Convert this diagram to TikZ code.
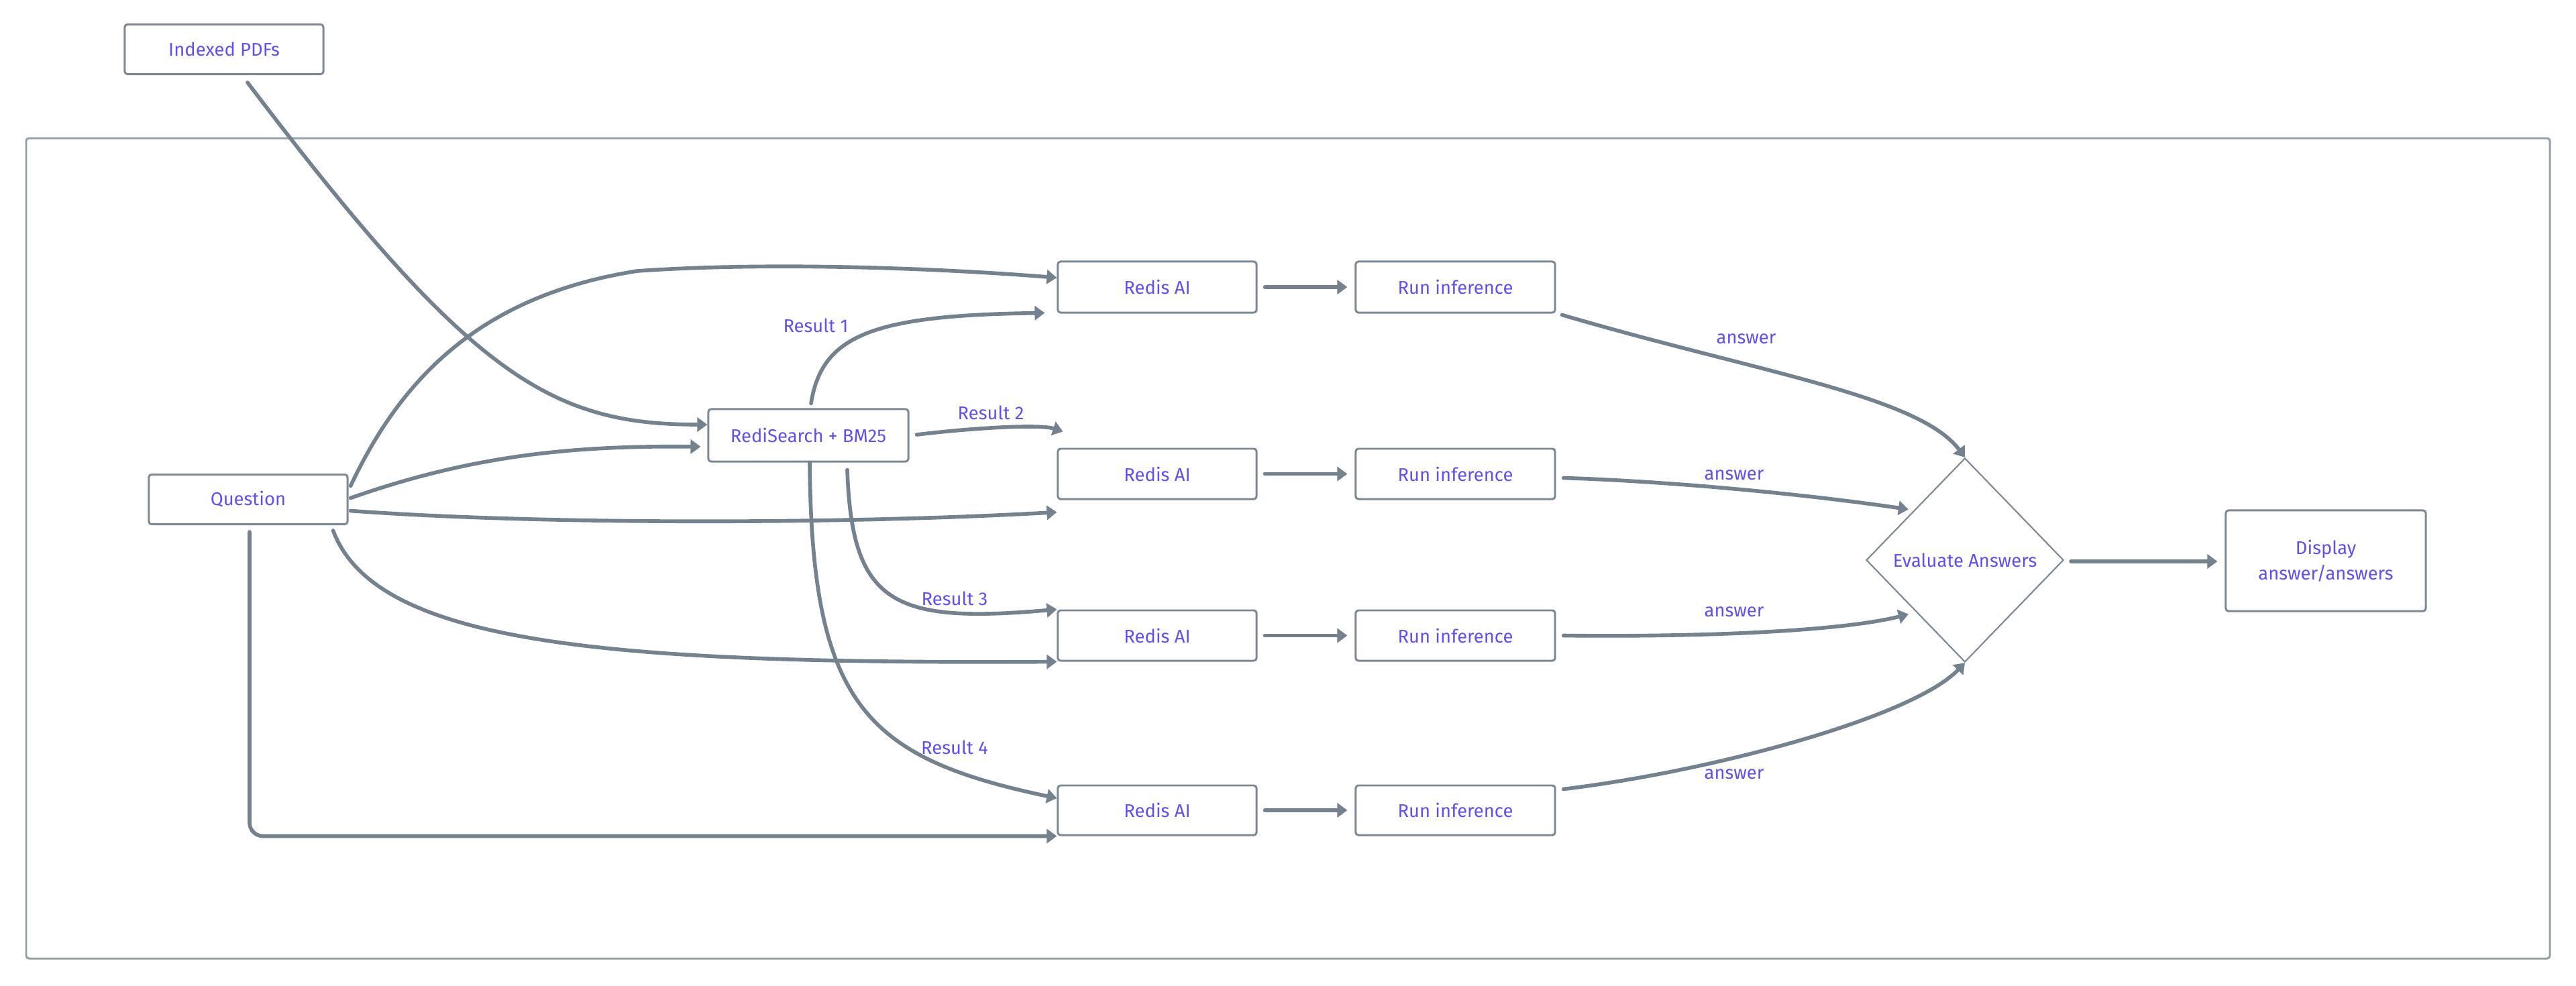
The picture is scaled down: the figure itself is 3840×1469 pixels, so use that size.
\documentclass[tikz,border=0pt]{standalone}
\usepackage{fontspec}
\setmainfont{Fira Sans}
\usetikzlibrary{arrows.meta,calc,shapes.geometric}
\definecolor{lc}{RGB}{116,130,143}
\definecolor{bc}{RGB}{124,136,148}
\definecolor{fc}{RGB}{150,160,170}
\definecolor{tc}{RGB}{96,80,244}
\begin{document}
\begin{tikzpicture}[x=0.01cm,y=-0.01cm,
  txt/.style={text=tc, font=\fontsize{7.8}{10.8}\selectfont},
  box/.style={txt, draw=bc, line width=0.85pt, rounded corners=0.04cm, minimum width=2.96cm, minimum height=0.74cm, inner sep=0pt, align=center},
  conn/.style={draw=lc, line width=1.6pt, line cap=round, -{Triangle[length=0.15cm,width=0.21cm]}},
  lbl/.style={txt, inner sep=0pt}]
\useasboundingbox (0,0) rectangle (3840,1469);
\fill[white] (0,0) rectangle (3840,1469);
% outer frame
\draw[fc, line width=0.85pt, rounded corners=0.04cm] (39,206) rectangle (3801,1429);
% nodes
\node[box] (pdf) at (334,73.5) {Indexed PDFs};
\node[box] (question) at (370,744.5) {Question};
\node[box, minimum width=2.98cm, minimum height=0.78cm] (rs) at (1205,649) {RediSearch + BM25};
\node[box, minimum height=0.76cm] (ai1) at (1725,428) {Redis AI};
\node[box, minimum height=0.75cm] (ai2) at (1725,706.5) {Redis AI};
\node[box, minimum height=0.75cm] (ai3) at (1725,947.5) {Redis AI};
\node[box, minimum height=0.74cm] (ai4) at (1725,1208) {Redis AI};
\node[box, minimum width=2.97cm, minimum height=0.76cm] (ri1) at (2169.5,428) {Run inference};
\node[box, minimum width=2.97cm, minimum height=0.75cm] (ri2) at (2169.5,706.5) {Run inference};
\node[box, minimum width=2.97cm, minimum height=0.75cm] (ri3) at (2169.5,947.5) {Run inference};
\node[box, minimum width=2.97cm, minimum height=0.74cm] (ri4) at (2169.5,1208) {Run inference};
\node[txt, diamond, draw=bc, line width=0.6pt, minimum width=2.94cm, minimum height=3.04cm, inner sep=0pt] (eval) at (2929,835) {Evaluate Answers};
\node[box, minimum width=2.98cm, minimum height=1.5cm] (disp) at (3467,836) {Display\\answer/answers};
% connectors into RediSearch
\draw[conn] ($(pdf.south)+(35,11)$) .. controls (700,560) and (820,633) .. ($(rs.west)+(0,-16)$);
\draw[conn] ($(question.east)+(3,-2)$) .. controls (700,680) and (850,664) .. ($(rs.west)+(-10,17)$);
% question to Redis AI
\draw[conn] ($(question.east)+(3,-20)$) .. controls (600,560) and (720,440) .. (950,404) .. controls (1150,390) and (1400,400) .. ($(ai1.west)+(0,-14)$);
\draw[conn] ($(question.east)+(3,17)$) .. controls (800,782) and (1250,782) .. ($(ai2.south west)+(0,18)$);
\draw[conn] ($(question.south east)+(-23,8)$) .. controls (560,960) and (900,990) .. (ai3.south west);
\draw[conn, rounded corners=0.2cm] ($(question.south)+(2,10)$) |- (ai4.south west);
% results
\draw[conn] ($(rs.north)+(4,-7)$) .. controls (1225,500) and (1300,470) .. ($(ai1.south west)+(-18,-1)$);
\draw[conn] ($(rs.east)+(11,-1)$) .. controls (1450,638) and (1550,632) .. ($(ai2.north west)+(9,-24)$);
\draw[conn] ($(rs.south)+(58,11)$) .. controls (1270,900) and (1330,930) .. (ai3.north west);
\draw[conn] ($(rs.south)+(2,0)$) .. controls (1210,1050) and (1290,1130) .. ($(ai4.west)+(0,-18)$);
\node[lbl] (l1) at (1216,485) {Result 1};
\node[lbl] (l2) at (1477,615) {Result 2};
\node[lbl] (l3) at (1423,892) {Result 3};
\node[lbl] (l4) at (1423,1114) {Result 4};
% Redis AI to Run inference
\foreach \i in {1,2,3,4}{
  \draw[conn] ($(ai\i.east)+(11,0)$) -- ($(ri\i.west)+(-11,0)$);
}
% answers
\draw[conn] ($(ri1.south east)+(9,2)$) .. controls (2620,555) and (2860,590) .. (eval.north);
\draw[conn] ($(ri2.east)+(11,6)$) .. controls (2500,718) and (2700,738) .. ($(eval.north west)+(-10,1)$);
\draw[conn] ($(ri3.east)+(11,0)$) .. controls (2550,950) and (2750,940) .. ($(eval.south west)+(-10,4)$);
\draw[conn] ($(ri4.north east)+(11,7)$) .. controls (2550,1150) and (2850,1070) .. (eval.south);
\node[lbl] (a1) at (2603,505) {answer};
\node[lbl] (a2) at (2585,708) {answer};
\node[lbl] (a3) at (2585,912) {answer};
\node[lbl] (a4) at (2585,1154) {answer};
% to display
\draw[conn] ($(eval.east)+(10,2)$) -- ($(disp.west)+(-11,1)$);
\end{tikzpicture}
\end{document}
